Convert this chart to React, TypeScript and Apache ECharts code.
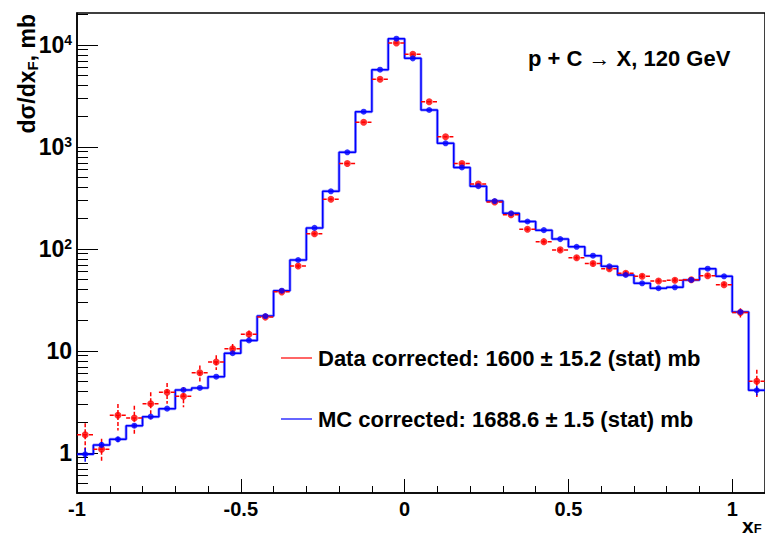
import React, { useEffect, useRef } from 'react';
import * as echarts from 'echarts';

// ---- data ----
const binWidth = 0.05;
const binCenters = [
  -0.975, -0.925, -0.875, -0.825, -0.775, -0.725, -0.675, -0.625, -0.575, -0.525,
  -0.475, -0.425, -0.375, -0.325, -0.275, -0.225, -0.175, -0.125, -0.075, -0.025,
  0.025, 0.075, 0.125, 0.175, 0.225, 0.275, 0.325, 0.375, 0.425, 0.475,
  0.525, 0.575, 0.625, 0.675, 0.725, 0.775, 0.825, 0.875, 0.925, 0.975,
  1.025, 1.075,
];
const mcValues = [
  0.97, 1.2, 1.36, 1.85, 2.27, 2.72, 4.15, 4.34, 5.6, 9.5,
  12.7, 22.0, 39, 78, 161, 368, 887, 2218, 5730, 11530,
  7400, 2306, 1087, 630, 412, 295, 224, 186, 153, 125,
  105, 86, 67.7, 55.6, 46.1, 41.2, 42.1, 49.7, 64.1, 54,
  24.1, 4.12,
];
const mcErrors = [
  0.15, 0.08, 0.08, 0.05, 0, 0, 0, 0, 0, 0,
  0, 0, 0, 0, 0, 0, 0, 0, 0, 0,
  0, 0, 0, 0, 0, 0, 0, 0, 0, 0,
  0, 0, 0, 0, 0, 0, 0, 0, 0, 0,
  0.6, 0.45,
];
const dataValues = [
  1.51, 1.09, 2.34, 2.2, 3.04, 3.94, 3.6, 6.12, 7.8, 10.5,
  14.6, 21.5, 38, 68, 141, 307, 690, 1746, 4613, 10470,
  8110, 2780, 1262, 690, 434, 289, 217, 156, 118, 98,
  82, 72, 64, 57.8, 54, 48.5, 49.3, 50, 54.7, 44.7,
  23.8, 5.04,
];
const dataErrors = [
  0.45, 0.29, 0.68, 0.7, 0.9, 0.9, 0.8, 1.1, 1.3, 1.2,
  1.3, 1.5, 2, 3, 5, 8, 12, 20, 35, 50,
  45, 25, 17, 12, 10, 8, 7, 6, 5, 4,
  4, 3.5, 3, 3, 3, 2.5, 2.5, 2.5, 3, 2.5,
  2.5, 1.5,
];
const xMajorTicks = [-1, -0.5, 0, 0.5, 1];
const xMinorTicks = [-0.9, -0.8, -0.7, -0.6, -0.4, -0.3, -0.2, -0.1, 0.1, 0.2, 0.3, 0.4, 0.6, 0.7, 0.8, 0.9];
const yMajorTicks = [1, 10, 100, 1000, 10000];
const yMinorTicks = [
  0.5, 0.6, 0.7, 0.8, 0.9,
  2, 3, 4, 5, 6, 7, 8, 9,
  20, 30, 40, 50, 60, 70, 80, 90,
  200, 300, 400, 500, 600, 700, 800, 900,
  2000, 3000, 4000, 5000, 6000, 7000, 8000, 9000,
  20000,
];
const xRange = [-1, 1.1];
const yRange = [0.405, 20600];
const titleText = 'p + C \u2192 X, 120 GeV';
const dataLegend = 'Data corrected: 1600 \u00b1 15.2 (stat) mb';
const mcLegend = 'MC corrected: 1688.6 \u00b1 1.5 (stat) mb';

const FONT = '"Liberation Sans", Arial, Helvetica, sans-serif';

export default function App() {
  const ref = useRef<HTMLDivElement>(null);
  useEffect(() => {
    if (!ref.current) return;
    const chart = echarts.init(ref.current, undefined, { renderer: 'svg' });

    const stepData: number[][] = binCenters.map((c, i) => [c - binWidth / 2, mcValues[i]]);
    stepData.push([binCenters[binCenters.length - 1] + binWidth / 2, mcValues[mcValues.length - 1]]);

    const errRender = (color: string, dash: number[] | null, horiz: boolean) =>
      (params: any, api: any) => {
        const x = api.value(0);
        const y = api.value(1);
        const e = api.value(2);
        const children: any[] = [];
        const style: any = { stroke: color, lineWidth: 1.5 };
        if (dash) style.lineDash = dash;
        if (horiz) {
          const l = api.coord([x - binWidth / 2, y]);
          const r = api.coord([x + binWidth / 2, y]);
          children.push({ type: 'line', shape: { x1: l[0], y1: l[1], x2: r[0], y2: r[1] }, style });
        }
        if (e > 0) {
          const t = api.coord([x, y + e]);
          const b = api.coord([x, y - e]);
          children.push({ type: 'line', shape: { x1: t[0], y1: t[1], x2: b[0], y2: b[1] }, style });
        }
        return { type: 'group', children };
      };

    const bold = { fontFamily: FONT, fontWeight: 'bold' as const, color: '#000' };

    const option: any = {
      animation: false,
      backgroundColor: '#fff',
      grid: {
        left: 77, top: 13, width: 690, height: 480,
        show: true, borderColor: '#000', borderWidth: 1.5, backgroundColor: 'transparent',
      },
      xAxis: [
        {
          type: 'value', position: 'bottom', min: xRange[0], max: xRange[1],
          axisLine: { show: true, onZero: false, lineStyle: { color: '#000', width: 1.5 } },
          axisTick: { show: true, inside: true, length: 14, customValues: xMajorTicks, lineStyle: { color: '#000', width: 1 } },
          axisLabel: {
            show: true, customValues: xMajorTicks, margin: 6, fontSize: 20, ...bold,
            formatter: (v: number) => String(v),
          },
          splitLine: { show: false },
        },
        {
          type: 'value', position: 'bottom', min: xRange[0], max: xRange[1],
          axisLine: { show: false, onZero: false },
          axisTick: { show: true, inside: true, length: 7, customValues: xMinorTicks, lineStyle: { color: '#000', width: 1 } },
          axisLabel: { show: false },
          splitLine: { show: false },
        },
      ],
      yAxis: [
        {
          type: 'log', logBase: 10, position: 'left', min: yRange[0], max: yRange[1],
          axisLine: { show: true, onZero: false, lineStyle: { color: '#000', width: 1.5 } },
          axisTick: { show: true, inside: true, length: 21, customValues: yMajorTicks, lineStyle: { color: '#000', width: 1 } },
          axisLabel: {
            show: true, customValues: yMajorTicks, margin: 5,
            formatter: (v: number) => {
              const p = Math.round(Math.log10(v));
              if (p === 0) return '{b|1}';
              if (p === 1) return '{b|10}';
              return '{b|10}{s|' + p + '}';
            },
            rich: {
              b: { fontSize: 23, lineHeight: 24, ...bold },
              s: { fontSize: 14, lineHeight: 14, verticalAlign: 'top', ...bold },
            },
          },
          splitLine: { show: false },
        },
        {
          type: 'log', logBase: 10, position: 'left', min: yRange[0], max: yRange[1],
          axisLine: { show: false, onZero: false },
          axisTick: { show: true, inside: true, length: 11, customValues: yMinorTicks, lineStyle: { color: '#000', width: 1 } },
          axisLabel: { show: false },
          splitLine: { show: false },
        },
      ],
      series: [
        {
          type: 'line', name: 'MC shade', data: stepData, step: 'end', showSymbol: false,
          lineStyle: { color: 'rgba(40,40,255,0.45)', width: 3 }, silent: true, z: 2,
        },
        {
          type: 'line', name: 'MC', data: stepData, step: 'end', showSymbol: false,
          lineStyle: { color: '#0000ff', width: 1.5 }, z: 3,
        },
        {
          type: 'custom', name: 'Data errors', clip: true, z: 4,
          data: binCenters.map((c, i) => [c, dataValues[i], dataErrors[i]]),
          encode: { x: 0, y: 1 },
          renderItem: errRender('#ff0000', [4, 2], true),
        },
        {
          type: 'custom', name: 'MC errors', clip: true, z: 5,
          data: binCenters.map((c, i) => [c, mcValues[i], mcErrors[i]]),
          encode: { x: 0, y: 1 },
          renderItem: errRender('#0000ff', null, false),
        },
        {
          type: 'scatter', name: 'Data', symbol: 'circle', symbolSize: 7, z: 6,
          data: binCenters.map((c, i) => [c, dataValues[i]]),
          itemStyle: { color: '#ff0000' },
        },
        {
          type: 'scatter', name: 'MC points', symbol: 'circle', symbolSize: 6, z: 7,
          data: binCenters.map((c, i) => [c, mcValues[i]]),
          itemStyle: { color: '#0000ff' },
        },
      ],
      graphic: [
        {
          type: 'text', x: 528, y: 58,
          style: { text: titleText, font: 'bold 22px ' + FONT, fill: '#000', textAlign: 'left', textVerticalAlign: 'middle' },
        },
        {
          type: 'text', x: 27, y: 14, rotation: Math.PI / 2,
          style: {
            text: '{n|d\u03c3/dx}{s|F}{n|, mb}',
            textAlign: 'right', textVerticalAlign: 'middle',
            rich: {
              n: { fontSize: 23, lineHeight: 26, fontFamily: FONT, fontWeight: 'bold', fill: '#000' },
              s: { fontSize: 15, lineHeight: 15, verticalAlign: 'bottom', fontFamily: FONT, fontWeight: 'bold', fill: '#000' },
            },
          },
        },
        {
          type: 'text', x: 742, y: 515,
          style: {
            text: '{n|x}{s|F}',
            textAlign: 'left', textVerticalAlign: 'top',
            rich: {
              n: { fontSize: 21, lineHeight: 20, fontFamily: FONT, fontWeight: 'bold', fill: '#000' },
              s: { fontSize: 13, lineHeight: 13, verticalAlign: 'bottom', fontFamily: FONT, fontWeight: 'bold', fill: '#000' },
            },
          },
        },
        {
          type: 'line', shape: { x1: 281, y1: 358, x2: 312, y2: 358 },
          style: { stroke: '#ff0000', lineWidth: 1.2 },
        },
        {
          type: 'text', x: 318, y: 358,
          style: { text: dataLegend, font: 'bold 22px ' + FONT, fill: '#000', textAlign: 'left', textVerticalAlign: 'middle' },
        },
        {
          type: 'line', shape: { x1: 281, y1: 419, x2: 312, y2: 419 },
          style: { stroke: '#0000ff', lineWidth: 1.2 },
        },
        {
          type: 'text', x: 318, y: 419,
          style: { text: mcLegend, font: 'bold 22px ' + FONT, fill: '#000', textAlign: 'left', textVerticalAlign: 'middle' },
        },
      ],
    };
    chart.setOption(option);
    return () => chart.dispose();
  }, []);
  return <div ref={ref} style={{ position: 'fixed', left: 0, top: 0, width: 765, height: 538 }} />;
}
